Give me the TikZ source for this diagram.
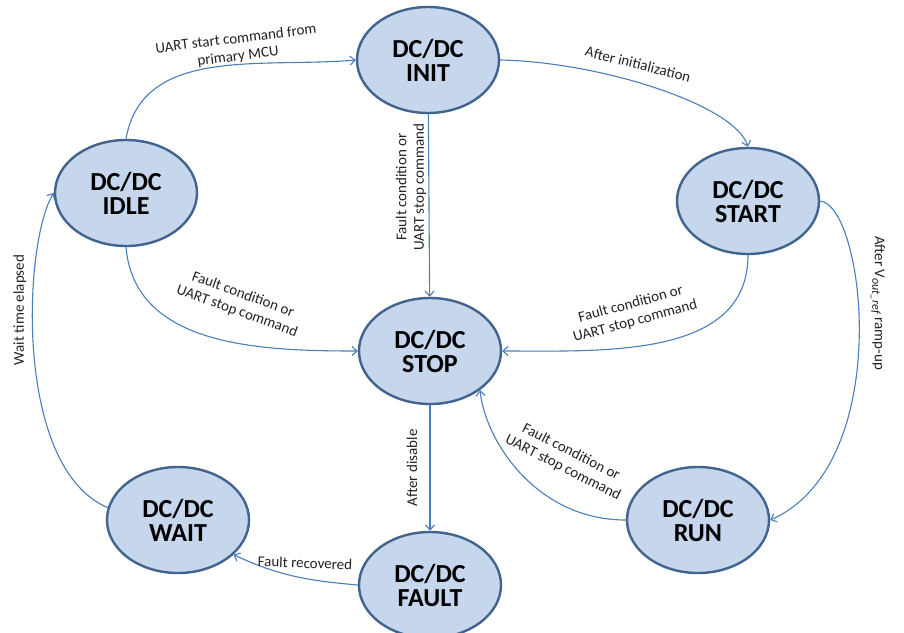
\documentclass[tikz,border=0pt]{standalone}
\usepackage{fontspec}
\setmainfont{Carlito}
\usepackage{xcolor}
\definecolor{stateFill}{HTML}{C6D6EC}
\definecolor{stateBorder}{HTML}{41648E}
\definecolor{edgeBlue}{HTML}{4A7EBB}
\definecolor{labelGray}{HTML}{222222}
\usepackage{tikz}
\usetikzlibrary{arrows.meta, shapes.geometric}

% small italic index, as in V_out_ref
\newcommand{\idx}[1]{\raisebox{-0.35ex}{\fontsize{12}{12}\selectfont\itshape #1}}

\begin{document}
\begin{tikzpicture}[
		x=1pt, y=1pt,
		state/.style={
			ellipse,
			draw=stateBorder,
			fill=stateFill,
			line width=2.4pt,
			minimum width=142pt,
			minimum height=106pt,
			inner sep=0pt,
			align=center,
			font=\fontsize{26}{24}\selectfont\bfseries
		},
		trans/.style={draw=edgeBlue, line width=1.1pt, -{Straight Barb[length=5pt,width=9pt]}},
		lbl/.style={font=\fontsize{15}{17.5}\selectfont, text=labelGray, align=center, inner sep=0pt}
		]
		\useasboundingbox (0,0) rectangle (904,-632);
		
		\node[state] (init)  at (428,-60)  {DC/DC\\INIT};
		\node[state] (idle)  at (126,-193) {DC/DC\\IDLE};
		\node[state] (start) at (748,-201) {DC/DC\\START};
		\node[state] (stop)  at (430,-351) {DC/DC\\STOP};
		\node[state] (run)   at (698,-520) {DC/DC\\RUN};
		\node[state] (wait)  at (178,-520) {DC/DC\\WAIT};
		\node[state] (fault) at (430,-585) {DC/DC\\FAULT};
		
		\draw[trans] (idle.north) to[out=80, in=185] (init.west);
		\draw[trans] (init.east) .. controls +(100,-2) and +(-13,42) .. (start.north);
		\draw[trans] (init) -- (stop);
		\draw[trans] (idle.south) to[out=-85, in=180] (stop.west);
		\draw[trans] (start.south) to[out=-90, in=0] (stop.east);
		\draw[trans] (start.east) .. controls +(45,-5) and +(125,55) .. (run.east);
		\draw[trans] (run.west) .. controls +(-90,0) and +(5,-50) .. (stop.-38);
		\draw[trans] (stop) -- (fault);
		\draw[trans] (fault.west) to[out=175, in=-25] (wait.-32);
		\draw[trans] (wait.170) .. controls +(-95,40) and +(-30,-47) .. (idle.west);
		
		\node[lbl, rotate=7]   (lStart)   at (237,-48)  {UART start command from\\primary MCU};
		\node[lbl, rotate=-14] (lInit)    at (638,-64)  {After initialization};
		\node[lbl, rotate=90]  (lInitOff) at (411,-187) {Fault condition or\\UART stop command};
		\node[lbl, rotate=-20] (lIdleOff) at (240,-303) {Fault condition or\\UART stop command};
		\node[lbl, rotate=15]  (lStrtOff) at (633,-313) {Fault condition or\\UART stop command};
		\node[lbl, rotate=-90] (lRamp)    at (878,-303) {After V\idx{out\_ref} ramp-up};
		\node[lbl, rotate=-27] (lRunOff)  at (567,-460) {Fault condition or\\UART stop command};
		\node[lbl, rotate=90]  (lDis)     at (412,-468) {After disable};
		\node[lbl, rotate=-2]  (lRecov)   at (305,-563) {Fault recovered};
		\node[lbl, rotate=90]  (lWait)    at (20,-310)  {Wait time elapsed};
		
	\end{tikzpicture}
\end{document}
